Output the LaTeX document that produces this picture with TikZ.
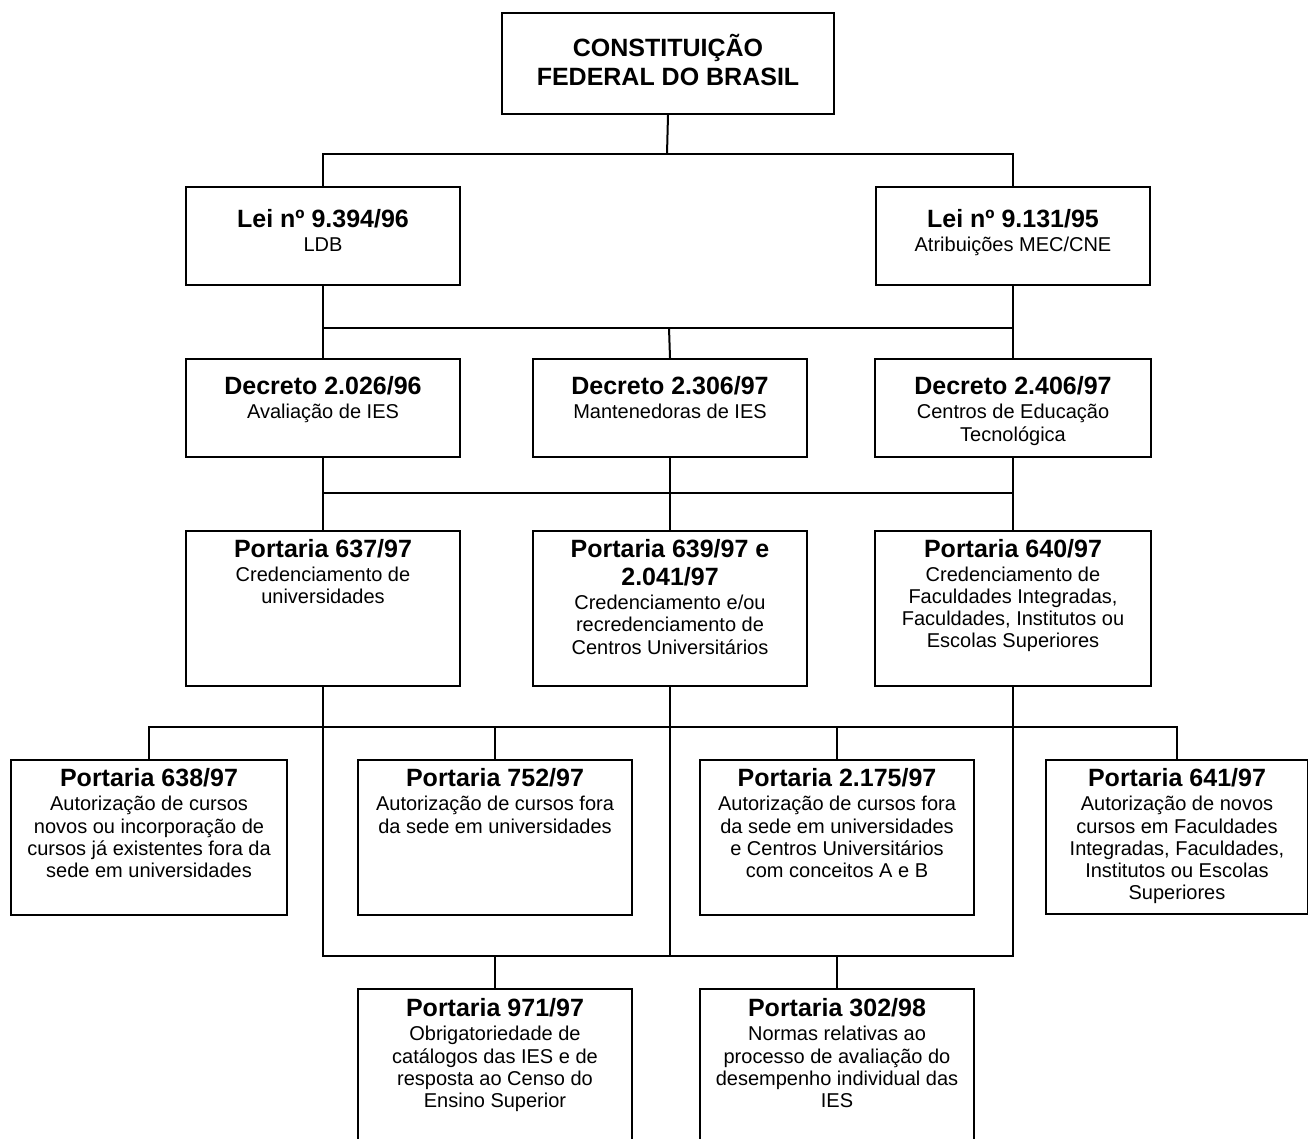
\documentclass[tikz,border=0pt]{standalone}
\usepackage{fontspec}
\setmainfont{Liberation Sans}
\newcommand\ttlonly[1]{\parbox[t]{360pt}{\centering\fontsize{25}{28.5}\selectfont\bfseries #1\par}}
\newcommand\boxtxt[2]{\parbox[t]{300pt}{\centering\fontsize{25}{28.5}\selectfont\bfseries #1\par\vspace{1.7pt}\fontsize{20}{22.3}\selectfont\mdseries #2\par}}
\begin{document}
\begin{tikzpicture}[x=1pt,y=-1pt,
  bx/.style={draw=black, line width=2pt, fill=white, rectangle, inner sep=0pt, anchor=north west},
  txt/.style={anchor=base, inner sep=0pt, text=black},
  ln/.style={draw=black, line width=2pt}]
\clip (0,0) rectangle (1308,1138);
% boxes
\node[bx, minimum width=332pt, minimum height=101pt] (cf) at (501,12) {};
\node[bx, minimum width=274pt, minimum height=98pt] (lei1) at (185,186) {};
\node[bx, minimum width=274pt, minimum height=98pt] (lei2) at (875,186) {};
\node[bx, minimum width=274pt, minimum height=98pt] (d1) at (185,358) {};
\node[bx, minimum width=274pt, minimum height=98pt] (d2) at (532,358) {};
\node[bx, minimum width=276pt, minimum height=98pt] (d3) at (874,358) {};
\node[bx, minimum width=274pt, minimum height=155pt] (p637) at (185,530) {};
\node[bx, minimum width=274pt, minimum height=155pt] (p639) at (532,530) {};
\node[bx, minimum width=276pt, minimum height=155pt] (p640) at (874,530) {};
\node[bx, minimum width=276pt, minimum height=155pt] (p638) at (10,759) {};
\node[bx, minimum width=274pt, minimum height=155pt] (p752) at (357,759) {};
\node[bx, minimum width=274pt, minimum height=155pt] (p2175) at (699,759) {};
\node[bx, minimum width=262pt, minimum height=154pt] (p641) at (1045,759) {};
\node[bx, minimum width=274pt, minimum height=170pt] (p971) at (357,988) {};
\node[bx, minimum width=274pt, minimum height=170pt] (p302) at (699,988) {};
% texts
\node[txt] (cft) at ([yshift=-44.7pt]cf.north) {\ttlonly{CONSTITUIÇÃO\\FEDERAL DO BRASIL}};
\node[txt] (lei1t) at ([yshift=-41pt]lei1.north) {\boxtxt{Lei nº 9.394/96}{LDB}};
\node[txt] (lei2t) at ([yshift=-41pt]lei2.north) {\boxtxt{Lei nº 9.131/95}{Atribuições MEC/CNE}};
\node[txt] (d1t) at ([yshift=-36.7pt]d1.north) {\boxtxt{Decreto 2.026/96}{Avaliação de IES}};
\node[txt] (d2t) at ([yshift=-36.7pt]d2.north) {\boxtxt{Decreto 2.306/97}{Mantenedoras de IES}};
\node[txt] (d3t) at ([yshift=-36.7pt]d3.north) {\boxtxt{Decreto 2.406/97}{Centros de Educação\\Tecnológica}};
\node[txt] (p637t) at ([yshift=-27pt]p637.north) {\boxtxt{Portaria 637/97}{Credenciamento de\\universidades}};
\node[txt] (p639t) at ([yshift=-27pt]p639.north) {\boxtxt{Portaria 639/97 e\\2.041/97}{Credenciamento e/ou\\recredenciamento de\\Centros Universitários}};
\node[txt] (p640t) at ([yshift=-27pt]p640.north) {\boxtxt{Portaria 640/97}{Credenciamento de\\Faculdades Integradas,\\Faculdades, Institutos ou\\Escolas Superiores}};
\node[txt] (p638t) at ([yshift=-27.7pt]p638.north) {\boxtxt{Portaria 638/97}{Autorização de cursos\\novos ou incorporação de\\cursos já existentes fora da\\sede em universidades}};
\node[txt] (p752t) at ([yshift=-27.7pt]p752.north) {\boxtxt{Portaria 752/97}{Autorização de cursos fora\\da sede em universidades}};
\node[txt] (p2175t) at ([yshift=-27.7pt]p2175.north) {\boxtxt{Portaria 2.175/97}{Autorização de cursos fora\\da sede em universidades\\e Centros Universitários\\com conceitos A e B}};
\node[txt] (p641t) at ([yshift=-27.7pt]p641.north) {\boxtxt{Portaria 641/97}{Autorização de novos\\cursos em Faculdades\\Integradas, Faculdades,\\Institutos ou Escolas\\Superiores}};
\node[txt] (p971t) at ([yshift=-28.7pt]p971.north) {\boxtxt{Portaria 971/97}{Obrigatoriedade de\\catálogos das IES e de\\resposta ao Censo do\\Ensino Superior}};
\node[txt] (p302t) at ([yshift=-28.7pt]p302.north) {\boxtxt{Portaria 302/98}{Normas relativas ao\\processo de avaliação do\\desempenho individual das\\IES}};
% bus coordinates
\coordinate (bus1) at (667,154);
\coordinate (bus2) at (669,328);
\coordinate (bus3) at (669,493);
\coordinate (bus4) at (669,727);
\coordinate (bus5) at (669,956);
% connectors
\draw[ln] (cf.south) -- (bus1);
\draw[ln] (lei1.north) |- (bus1) -| (lei2.north);
\draw[ln] (lei1.south) -- (d1.north);
\draw[ln] (lei2.south) -- (d3.north);
\draw[ln] (lei1.south |- bus2) -- (lei2.south |- bus2);
\draw[ln] (bus2) -- (d2.north);
\draw[ln] (d1.south) -- (p637.north);
\draw[ln] (d2.south) -- (p639.north);
\draw[ln] (d3.south) -- (p640.north);
\draw[ln] (d1.south |- bus3) -- (d3.south |- bus3);
\draw[ln] (p638.north) |- (p641.north |- bus4) -- (p641.north);
\draw[ln] (p752.north) -- (p752.north |- bus4);
\draw[ln] (p2175.north) -- (p2175.north |- bus4);
\draw[ln] (p637.south) |- (p640.south |- bus5) -- (p640.south);
\draw[ln] (p639.south) -- (p639.south |- bus5);
\draw[ln] (p971.north) -- (p971.north |- bus5);
\draw[ln] (p302.north) -- (p302.north |- bus5);
\end{tikzpicture}
\end{document}
